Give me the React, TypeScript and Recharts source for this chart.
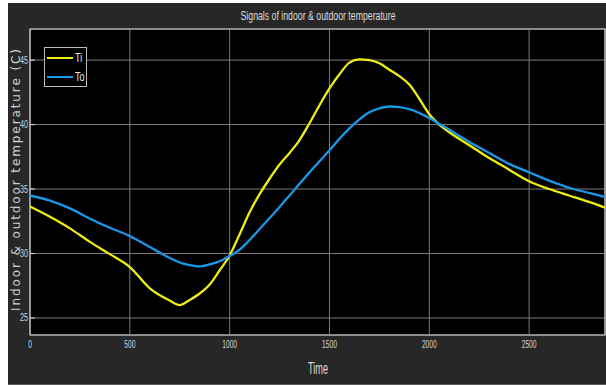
import React from "react";
import {
  LineChart,
  Line,
  XAxis,
  YAxis,
  CartesianGrid,
  ReferenceArea,
} from "recharts";

const timePoints = [
  0, 100, 200, 300, 400, 500, 600, 700, 750, 800, 850, 900, 950, 1000, 1050,
  1100, 1150, 1200, 1250, 1300, 1350, 1400, 1450, 1500, 1550, 1600, 1650,
  1700, 1750, 1800, 1850, 1900, 1950, 2000, 2050, 2100, 2200, 2300, 2400,
  2500, 2600, 2700, 2800, 2880,
];

const tiValues = [
  33.65, 32.85, 31.95, 30.9, 29.95, 28.95, 27.3, 26.35, 26.0, 26.4, 26.9,
  27.6, 28.7, 29.85, 31.5, 33.2, 34.6, 35.8, 36.9, 37.8, 38.8, 40.1, 41.5,
  42.8, 43.9, 44.8, 45.05, 45.0, 44.75, 44.25, 43.75, 43.1, 42.0, 40.8, 40.0,
  39.4, 38.4, 37.4, 36.5, 35.6, 35.0, 34.5, 34.0, 33.55,
];

const toValues = [
  34.5, 34.1, 33.5, 32.7, 32.0, 31.35, 30.5, 29.65, 29.3, 29.1, 29.0, 29.15,
  29.4, 29.8, 30.3, 31.05, 31.9, 32.75, 33.6, 34.5, 35.4, 36.3, 37.15, 38.0,
  38.9, 39.7, 40.4, 40.95, 41.25, 41.4, 41.35, 41.2, 40.9, 40.5, 40.05, 39.6,
  38.65, 37.8, 36.95, 36.3, 35.65, 35.1, 34.7, 34.38,
];

const xTicks = [0, 500, 1000, 1500, 2000, 2500];
const yTicks = [25, 30, 35, 40, 45];
const xDomain = [0, 2880];
const yDomain = [23.68, 47.41];

const seriesNames = ["Ti", "To"];
const seriesColors = ["#EDED14", "#1A98E8"];

const data = timePoints.map((t, i) => ({
  time: t,
  Ti: tiValues[i],
  To: toValues[i],
}));

const TEXT = "#d6d6d6";

const XTick = (props: any) => {
  const { x, y, payload } = props;
  const s = String(payload.value);
  return (
    <text
      x={x}
      y={y + 9}
      fill={TEXT}
      fontSize={11.5}
      fontFamily="Liberation Sans, Arial, sans-serif"
      textAnchor="middle"
      textLength={s.length * 3.7}
      lengthAdjust="spacingAndGlyphs"
    >
      {s}
    </text>
  );
};

const YTick = (props: any) => {
  const { x, y, payload } = props;
  const s = String(payload.value);
  return (
    <g>
      <line x1={x + 2} x2={x + 7} y1={y} y2={y} stroke="#e0e0e0" strokeWidth={1} />
      <text
        x={x}
        y={y + 3.5}
        fill={TEXT}
        fontSize={10}
        fontFamily="Liberation Sans, Arial, sans-serif"
        textAnchor="end"
        textLength={s.length * 4}
        lengthAdjust="spacingAndGlyphs"
      >
        {s}
      </text>
    </g>
  );
};

const LegendBox = () => (
  <div
    style={{
      position: "absolute",
      left: 44,
      top: 47,
      width: 43,
      height: 40,
      background: "#000",
      border: "1px solid #bdbdbd",
      boxSizing: "border-box",
    }}
  >
    {seriesNames.map((n, i) => (
      <div
        key={n}
        style={{
          position: "absolute",
          left: 2,
          top: 4 + i * 19,
          height: 12,
          display: "flex",
          alignItems: "center",
        }}
      >
        <div style={{ width: 26, height: 2, background: seriesColors[i] }} />
        <span
          style={{
            color: "#e6e6e6",
            fontSize: 12,
            fontFamily: "Liberation Sans, Arial, sans-serif",
            marginLeft: 2,
            lineHeight: "12px",
            display: "inline-block",
            transform: "scaleX(0.75)",
            transformOrigin: "left center",
          }}
        >
          {n}
        </span>
      </div>
    ))}
  </div>
);

export default function App() {
  return (
    <div
      style={{
        position: "absolute",
        left: 0,
        top: 0,
        width: 606,
        height: 385,
        background: "#ffffff",
        overflow: "hidden",
      }}
    >
      <div
        style={{
          position: "absolute",
          left: 8,
          top: 3,
          width: 598,
          height: 381,
          background: "#272727",
          borderBottom: "1px solid #5a5a5a",
        }}
      />
      <div style={{ position: "absolute", left: 0, top: 0 }}>
        <LineChart
          width={606}
          height={385}
          data={data}
          margin={{ top: 29, right: 1, left: 0, bottom: 0 }}
        >
          <CartesianGrid
            stroke="#7a7a7a"
            strokeWidth={1}
            fill="#000000"
            fillOpacity={1}
          />
          <XAxis
            dataKey="time"
            type="number"
            domain={xDomain}
            ticks={xTicks}
            height={50}
            tick={<XTick />}
            tickLine={false}
            axisLine={false}
            tickSize={0}
            tickMargin={4}
            interval={0}
            allowDataOverflow
          />
          <YAxis
            type="number"
            domain={yDomain}
            ticks={yTicks}
            width={30}
            tick={<YTick />}
            tickLine={false}
            axisLine={false}
            tickSize={0}
            tickMargin={2}
            interval={0}
            allowDataOverflow
          />
          <ReferenceArea
            x1={xDomain[0]}
            x2={xDomain[1]}
            y1={yDomain[0]}
            y2={yDomain[1]}
            fill="none"
            stroke="#cfcfcf"
            strokeWidth={1.2}
            ifOverflow="visible"
          />
          {seriesNames.map((n, i) => (
            <Line
              key={n}
              dataKey={n}
              type="monotone"
              stroke={seriesColors[i]}
              strokeWidth={2.3}
              dot={false}
              activeDot={false}
              isAnimationActive={false}
            />
          ))}
        </LineChart>
      </div>
      <LegendBox />
      <svg
        width={606}
        height={385}
        style={{ position: "absolute", left: 0, top: 0, pointerEvents: "none" }}
      >
        <text
          x={318}
          y={20}
          fill="#dedede"
          fontSize={12}
          fontFamily="Liberation Sans, Arial, sans-serif"
          textAnchor="middle"
          textLength={155}
          lengthAdjust="spacingAndGlyphs"
        >
          Signals of indoor &amp; outdoor temperature
        </text>
        <text
          x={318}
          y={374}
          fill="#dedede"
          fontSize={16}
          fontFamily="Liberation Sans, Arial, sans-serif"
          textAnchor="middle"
          textLength={20}
          lengthAdjust="spacingAndGlyphs"
        >
          Time
        </text>
        <text
          x={19.5}
          y={180}
          fill="#d0d0d0"
          fontSize={12}
          fontFamily="DejaVu Sans, sans-serif"
          textAnchor="middle"
          textLength={262}
          lengthAdjust="spacing"
          transform="rotate(-90 19.5 180)"
        >
          Indoor &amp; outdoor temperature (C)
        </text>
      </svg>
    </div>
  );
}
